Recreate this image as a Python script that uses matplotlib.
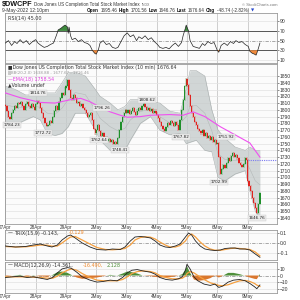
import matplotlib
matplotlib.use("Agg")
import matplotlib.pyplot as plt
import numpy as np

# ---------------- data ----------------
days = ["27Apr", "28Apr", "29Apr", "2May", "3May", "4May", "5May", "6May", "9May"]
BARS_PER_DAY = 39          # 10-minute bars per session

# 20-minute closes per session
close_27apr = [1805, 1798, 1790, 1786, 1795, 1800, 1806, 1803, 1810, 1808,
               1812, 1805, 1800, 1808, 1812, 1806, 1802, 1808, 1804, 1800]
close_28apr = [1808, 1813, 1810, 1802, 1795, 1788, 1780, 1776, 1778, 1784,
               1780, 1790, 1798, 1805, 1800, 1812, 1818, 1825, 1822, 1832]
close_29apr = [1835, 1844, 1830, 1818, 1815, 1822, 1818, 1810, 1812, 1806,
               1808, 1802, 1800, 1795, 1790, 1793, 1796, 1785, 1772, 1765]
close_2may = [1770, 1777, 1768, 1762, 1765, 1758, 1760, 1754, 1757, 1752,
              1755, 1750, 1753, 1749, 1758, 1770, 1782, 1790, 1796, 1800]
close_3may = [1796, 1800, 1794, 1798, 1802, 1797, 1792, 1799, 1803, 1800,
              1805, 1808, 1804, 1800, 1803, 1798, 1801, 1796, 1799, 1795]
close_4may = [1792, 1788, 1782, 1776, 1772, 1769, 1775, 1780, 1778, 1784,
              1780, 1776, 1782, 1778, 1770, 1785, 1800, 1815, 1835, 1846]
close_5may = [1836, 1822, 1805, 1795, 1790, 1782, 1778, 1772, 1768, 1765,
              1770, 1762, 1766, 1758, 1762, 1755, 1760, 1752, 1756, 1750]
close_6may = [1751, 1730, 1705, 1712, 1718, 1714, 1722, 1728, 1724, 1732,
              1736, 1730, 1733, 1728, 1722, 1718, 1715, 1720, 1728, 1725.4]
close_9may = [1695, 1688, 1680, 1670, 1662, 1655, 1648, 1660, 1676.6]
sessions = [close_27apr, close_28apr, close_29apr, close_2may, close_3may,
            close_4may, close_5may, close_6may, close_9may]
prev_close = 1725.38

# Bollinger band (bar index, upper, lower)
bb_bar = [0, 13, 26, 36, 45, 54, 64, 73, 81, 90, 103, 116, 122, 135, 145, 154,
          161, 174, 187, 199, 212, 225, 233, 238, 246, 257, 266, 274, 283, 296,
          309, 315, 322, 328]
bb_up = [1835, 1830, 1822, 1822, 1822, 1825, 1825, 1840, 1855, 1856, 1850, 1830,
         1820, 1810, 1800, 1805, 1815, 1815, 1812, 1810, 1798, 1795, 1830, 1858,
         1858, 1850, 1800, 1770, 1758, 1745, 1740, 1745, 1740, 1740]
bb_lo = [1780, 1778, 1785, 1790, 1785, 1765, 1762, 1765, 1775, 1795, 1795, 1770,
         1755, 1740, 1738, 1740, 1755, 1780, 1790, 1770, 1763, 1765, 1750, 1752,
         1755, 1740, 1738, 1700, 1695, 1705, 1710, 1680, 1650, 1638]

# EMA(18)
ema_bar = [0, 19, 45, 64, 84, 97, 109, 122, 135, 148, 157, 174, 187, 212, 229,
           242, 257, 277, 296, 315, 328]
ema_val = [1825, 1818, 1811, 1810, 1815, 1817, 1812, 1804, 1797, 1792, 1789,
           1790, 1792, 1793, 1792, 1797, 1790, 1775, 1763, 1751, 1730]

# price labels (value, bar, label height)
lbl_val = ["1784.23", "1814.76", "1772.72", "1762.64", "1796.26", "1748.41",
           "1808.62", "1767.82", "1751.92", "1702.99", "1646.76"]
lbl_bar = [8, 42, 48, 120, 124, 148, 183, 226, 284, 275, 324]
lbl_y = [1777.5, 1825, 1765.7, 1755.3, 1802.7, 1740.5, 1814.5, 1759.8, 1759.8,
         1693, 1640]

# RSI(14)
rsi_bar = [0, 4, 8, 12, 15, 19, 23, 27, 31, 35, 39, 42, 46, 50, 54, 58, 62, 66, 68, 72,
           75, 77, 80, 81, 82, 84, 86, 90, 94, 98, 102, 106, 109, 112, 115, 117, 120,
           122, 126, 130, 134, 138, 142, 145, 149, 153, 157, 161, 165, 169, 172, 176,
           180, 184, 188, 192, 196, 199, 203, 207, 211, 215, 219, 223, 227, 229, 232,
           233, 236, 238, 242, 246, 250, 254, 257, 261, 265, 269, 273, 275, 278, 282,
           286, 290, 294, 297, 301, 305, 309, 313, 315, 318, 321, 323, 324, 326, 328]
rsi_val = [45, 50, 40, 48, 44, 52, 45, 50, 42, 48, 52, 45, 40, 36, 38, 42, 45, 62, 72, 76,
           80, 82, 78, 65, 78, 60, 52, 55, 48, 52, 46, 44, 40, 30, 24, 22, 32,
           45, 50, 42, 44, 36, 34, 36, 48, 60, 66, 58, 62, 50, 58, 54,
           60, 52, 56, 48, 42, 36, 34, 36, 33, 40, 45, 38, 46, 60, 76,
           82, 70, 50, 38, 36, 34, 44, 40, 48, 44, 46, 30, 26, 40, 45,
           40, 48, 44, 50, 46, 48, 42, 38, 28, 24, 22, 20, 24, 34, 45]

# TRIX(15,9)
trix_bar = [0, 13, 26, 36, 45, 54, 60, 67, 73, 80, 84, 90, 99, 109, 118, 129, 138, 148,
            154, 161, 167, 174, 180, 187, 193, 199, 206, 212, 219, 225, 232, 236, 240,
            245, 251, 257, 264, 270, 277, 283, 290, 296, 302, 309, 315, 322, 328]
trix_val = [-0.03, -0.04, -0.035, -0.02, -0.01, -0.03, -0.04, -0.02, 0.03, 0.07, 0.08,
            0.05, 0.0, -0.04, -0.065, -0.07, -0.06, -0.065, -0.04, 0.02, 0.06, 0.065,
            0.06, 0.05, 0.02, -0.02, -0.04, -0.045, -0.03, -0.01, 0.06, 0.10, 0.08,
            0.02, -0.03, -0.06, -0.07, -0.075, -0.07, -0.055, -0.05, -0.05, -0.06,
            -0.06, -0.07, -0.11, -0.143]
trix_sig = [-0.035, -0.04, -0.038, -0.03, -0.02, -0.022, -0.032, -0.03, 0.0, 0.04,
            0.06, 0.065, 0.03, -0.01, -0.045, -0.065, -0.068, -0.062, -0.055, -0.02,
            0.03, 0.055, 0.062, 0.058, 0.04, 0.01, -0.02, -0.04, -0.04, -0.025,
            0.02, 0.07, 0.09, 0.06, 0.01, -0.03, -0.06, -0.072, -0.073, -0.065,
            -0.055, -0.052, -0.055, -0.06, -0.065, -0.09, -0.129]

# MACD(12,26,9)
macd_bar = [0, 9, 19, 28, 36, 45, 54, 61, 67, 73, 80, 85, 92, 99, 109, 118, 126, 135,
            144, 151, 157, 163, 170, 177, 187, 193, 199, 207, 215, 223, 228, 232, 234,
            238, 243, 248, 256, 264, 270, 275, 280, 287, 294, 302, 309, 315, 321, 324, 328]
macd_val = [-3, -2, -1, -3, -2, -4, -6, -3, 4, 10, 12, 11, 5, -2, -7, -10, -9, -7, -8, -3,
            4, 8, 9, 7, 5, 2, -3, -6, -7, -5, -2, 8, 17, 10, -2, -8, -13, -15, -13, -18,
            -16, -10, -7, -6, -8, -12, -17, -20, -14.361]
macd_sig = [-2, -2, -2, -2, -2.5, -3, -4, -4, -1, 4, 8, 10, 8, 3, -3, -7, -8, -8, -8, -6,
            -2, 3, 6, 7, 6, 4, 0, -3, -5, -5, -4, -1, 3, 6, 4, 0, -6, -11, -13, -15,
            -15.5, -14, -11, -8, -7.5, -9, -12, -14.5, -16.49]

# ---------------- figure ----------------
W = H = 300
fig = plt.figure(figsize=(3, 3), dpi=100)
fig.patch.set_facecolor("white")
SANS = ["Liberation Sans", "DejaVu Sans"]
plt.rcParams["font.family"] = SANS
renderer = fig.canvas.get_renderer()

GRID = "#e2e2e2"
VGRID = "#bdbdbd"
SPINE = "#9a9a9a"
TXT = "#333333"
XMAX = 350


def add_panel(top, bottom, left=5, right=277):
    ax = fig.add_axes([left / W, 1 - bottom / H, (right - left) / W, (bottom - top) / H])
    ax.set_facecolor("#fbfbfb")
    for s in ax.spines.values():
        s.set_color(SPINE)
        s.set_linewidth(0.6)
    ax.set_xlim(-0.5, XMAX)
    ax.yaxis.tick_right()
    ax.tick_params(axis="y", labelsize=3.6, length=1.2, width=0.4, pad=1,
                   colors=TXT)
    ax.tick_params(axis="x", length=0, labelbottom=False)
    for d in range(len(days)):
        ax.axvline(d * BARS_PER_DAY, color=VGRID, lw=0.5, zorder=0)
    return ax


def seq_text(x_px, y_px, parts, gap=1.2):
    """place text pieces one after another on a header line"""
    x = x_px
    for s, kw in parts:
        t = fig.text(x / W, 1 - y_px / H, s, va="center", **kw)
        x += t.get_window_extent(renderer).width + gap
    return x


# ---- header ----
seq_text(1.5, 4.5, [("$DWCPF", dict(fontsize=5.2, weight="bold", color="#111")),
                    ("Dow Jones US Completion Total Stock Market Index",
                     dict(fontsize=3.25, color=TXT)),
                    ("INDX", dict(fontsize=2.5, color="#666"))], gap=2)
fig.text(278 / W, 1 - 4.5 / H, "© StockCharts.com", fontsize=3.0, va="center",
         ha="right", color="#777")
fig.text(1.5 / W, 1 - 10.5 / H, "9-May-2022 12:10pm", fontsize=3.5, va="center",
         color=TXT)
hdr = [("Open", "1695.46"), ("High", "1701.56"), ("Low", "1646.76"),
       ("Last", "1676.64"), ("Chg", "-48.74 (-2.82%)")]
parts = []
for k, v in hdr:
    parts.append((k, dict(fontsize=3.35, weight="bold", color="#111")))
    parts.append((v, dict(fontsize=3.35, color=TXT)))
x_end = seq_text(87, 10.5, parts, gap=1.35)
fig.text((x_end + 0.5) / W, 1 - 10.5 / H, "▼", fontsize=3.0, va="center",
         color="#2244cc", family="DejaVu Sans")

# ---- RSI panel ----
ax_rsi = add_panel(13, 63)
ax_rsi.set_ylim(3.8, 107)
ax_rsi.set_yticks([90, 70, 50, 30, 10])
for lv in (90, 10):
    ax_rsi.axhline(lv, color=GRID, lw=0.5, zorder=0)
ax_rsi.axhline(70, color="#555", lw=0.7, zorder=1)
ax_rsi.axhline(30, color="#555", lw=0.7, zorder=1)
ax_rsi.axhline(50, color="#999", lw=0.6, ls=(0, (4, 1.5, 1, 1.5)), zorder=1)
rb = np.array(rsi_bar, float)
rv = np.array(rsi_val, float)
ax_rsi.fill_between(rb, rv, 70, where=rv > 70, interpolate=True, color="#3d8a3d",
                    lw=0, zorder=2)
ax_rsi.fill_between(rb, rv, 30, where=rv < 30, interpolate=True, color="#f08a3c",
                    lw=0, zorder=2)
ax_rsi.plot(rb, rv, color="#222", lw=0.5, zorder=3)
ax_rsi.text(3, 101, "RSI(14) 45.00", fontsize=3.5, va="top", color=TXT,
            family="DejaVu Sans")

# ---- Price panel ----
ax_p = add_panel(64, 224)
ax_p.set_ylim(1631.1, 1867.8)
ticks_p = list(range(1850, 1639, -10))
ax_p.set_yticks(ticks_p)
for t in ticks_p:
    ax_p.axhline(t, color=GRID, lw=0.5, zorder=0)
bbb = np.array(bb_bar, float)
bu = np.array(bb_up, float)
bl = np.array(bb_lo, float)
ax_p.fill_between(bbb, bl, bu, color="#c4caca", alpha=0.75, lw=0, zorder=1)
ax_p.plot(bbb, bu, color="#a7adad", lw=0.4, zorder=1)
ax_p.plot(bbb, bl, color="#a7adad", lw=0.4, zorder=1)
ax_p.plot(bbb, (bu + bl) / 2, color="#b4b9b9", lw=0.4, zorder=1)

xs, opens, closes = [], [], []
last = None
for d, sess in enumerate(sessions):
    for k, c in enumerate(sess):
        xs.append(d * BARS_PER_DAY + 2 * k)
        opens.append(last if last is not None else c + 2)
        closes.append(c)
        last = c
xs = np.array(xs, float)
opens = np.array(opens, float)
closes = np.array(closes, float)
up = closes >= opens
body = np.abs(closes - opens)
body = np.where(body < 0.8, 0.8, body)
bottoms = np.minimum(opens, closes)
ax_p.bar(xs[up], body[up], bottom=bottoms[up], width=1.5, color="#1f8f2a",
         lw=0, zorder=3)
ax_p.bar(xs[~up], body[~up], bottom=bottoms[~up], width=1.5, color="#e0231f",
         lw=0, zorder=3)
ax_p.vlines(xs, np.minimum(opens, closes) - 1.5, np.maximum(opens, closes) + 1.5,
            color=np.where(up, "#1f8f2a", "#e0231f"), lw=0.3, zorder=3)

ax_p.plot(ema_bar, ema_val, color="#f050f0", lw=0.8, zorder=4)
ax_p.plot([8 * BARS_PER_DAY, XMAX], [prev_close, prev_close], color="#7b7bf0",
          lw=0.8, ls=(0, (1, 1)), zorder=4)

for s, bx, by in zip(lbl_val, lbl_bar, lbl_y):
    ax_p.text(bx, by, s, fontsize=3.0, ha="center", va="center", color="#222",
              zorder=6, family="DejaVu Sans",
              bbox=dict(boxstyle="square,pad=0.15", fc="#ececec", ec="#c8c8c8",
                        lw=0.3))

leg_y = [1866, 1857.5, 1849, 1840]
ax_p.text(3, leg_y[0], "■Dow Jones US Completion Total Stock Market Index (10 min) 1676.64",
          fontsize=3.4, va="top", color=TXT, family="DejaVu Sans", zorder=7)
ax_p.text(3, leg_y[1], "▒BB(20,2.0) 1638.88 - 1677.67 - 1716.46", fontsize=2.8,
          va="top", color="#999", family="DejaVu Sans", zorder=7)
ax_p.text(3, leg_y[2], "—EMA(18) 1758.54", fontsize=3.4, va="top", color="#e040e0",
          family="DejaVu Sans", zorder=7)
ax_p.text(3, leg_y[3], "▲Volume undef", fontsize=3.4, va="top", color=TXT,
          family="DejaVu Sans", zorder=7)

ax_p.set_xticks([d * BARS_PER_DAY for d in range(len(days))])
ax_p.set_xticklabels(days)
ax_p.tick_params(axis="x", labelbottom=True, labelsize=3.3, pad=0.8, colors=TXT)

# ---- TRIX panel ----
ax_t = add_panel(230, 260)
ax_t.set_ylim(-0.17, 0.13)
ax_t.set_yticks([0.1, 0.0, -0.1])
ax_t.set_yticklabels(["0.1", "0.0", "-0.1"])
ax_t.axhline(0.1, color=GRID, lw=0.5, zorder=0)
ax_t.axhline(-0.1, color=GRID, lw=0.5, zorder=0)
ax_t.axhline(0.0, color="#999", lw=0.6, ls=(0, (4, 1.5, 1, 1.5)), zorder=1)
ax_t.plot(trix_bar, trix_sig, color="#f5a040", lw=0.9, zorder=2)
ax_t.plot(trix_bar, trix_val, color="#222", lw=0.6, zorder=3)
ax_t.text(3, 0.125, "—", fontsize=3.5, va="top", color="#111", family="DejaVu Sans")
ax_t.text(11, 0.125, "TRIX(15,9) -0.143,", fontsize=3.5, va="top", color=TXT,
          family="DejaVu Sans")
ax_t.text(82, 0.125, "-0.129", fontsize=3.5, va="top", color="#f08a2c",
          family="DejaVu Sans")

# ---- MACD panel ----
ax_m = add_panel(262, 293)
ax_m.set_ylim(-26.5, 20.5)
ax_m.set_yticks([10, 0, -10, -20])
for lv in (10, -10, -20):
    ax_m.axhline(lv, color=GRID, lw=0.5, zorder=0)
ax_m.axhline(0, color="#999", lw=0.6, ls=(0, (4, 1.5, 1, 1.5)), zorder=1)
mb = np.array(macd_bar, float)
mv = np.array(macd_val, float)
ms = np.array(macd_sig, float)
hist = mv - ms
ax_m.fill_between(mb, 0, hist, where=hist >= 0, interpolate=True, color="#4e8f3a",
                  lw=0, zorder=2)
ax_m.fill_between(mb, 0, hist, where=hist < 0, interpolate=True, color="#d9772e",
                  lw=0, zorder=2)
ax_m.plot(mb, ms, color="#f5a040", lw=0.9, zorder=3)
ax_m.plot(mb, mv, color="#222", lw=0.6, zorder=4)
ax_m.text(3, 19.5, "—", fontsize=3.5, va="top", color="#111", family="DejaVu Sans")
ax_m.text(11, 19.5, "MACD(12,26,9) -14.361,", fontsize=3.5, va="top", color=TXT,
          family="DejaVu Sans")
ax_m.text(100, 19.5, "-16.490,", fontsize=3.5, va="top", color="#f08a2c",
          family="DejaVu Sans")
ax_m.text(131, 19.5, "2.128", fontsize=3.5, va="top", color="#4e8f3a",
          family="DejaVu Sans")
ax_m.set_xticks([d * BARS_PER_DAY for d in range(len(days))])
ax_m.set_xticklabels(days)
ax_m.tick_params(axis="x", labelbottom=True, labelsize=3.3, pad=0.8, colors=TXT)

fig.savefig("out.png", dpi=100, facecolor="white")
